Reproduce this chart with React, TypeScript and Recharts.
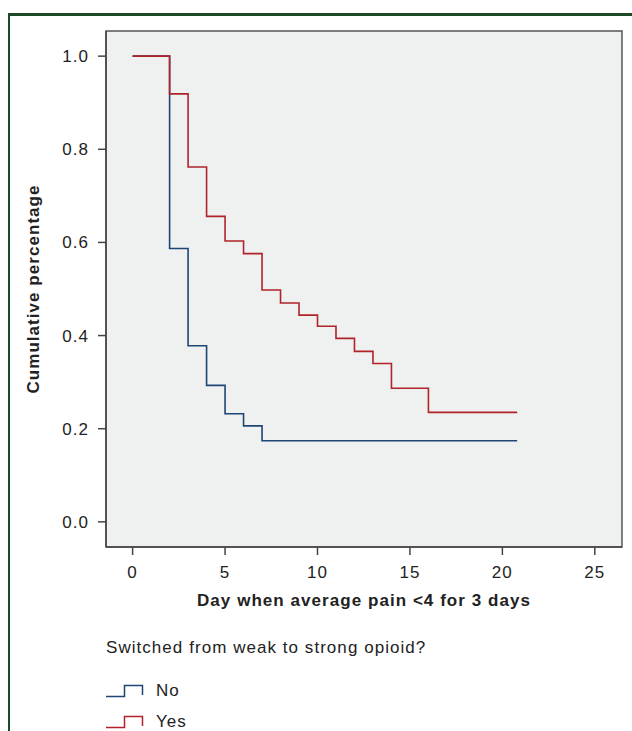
import React from 'react';
import {
  LineChart,
  Line,
  XAxis,
  YAxis,
  CartesianGrid,
  ReferenceArea,
  Legend,
} from 'recharts';

// Kaplan-Meier style step values
const days = [0, 2, 3, 4, 5, 6, 7, 8, 9, 10, 11, 12, 13, 14, 16, 20.8];
const switchedNo = [1.0, 0.587, 0.378, 0.293, 0.232, 0.206, 0.174, 0.174, 0.174, 0.174, 0.174, 0.174, 0.174, 0.174, 0.174, 0.174];
const switchedYes = [1.0, 0.919, 0.762, 0.656, 0.603, 0.576, 0.498, 0.47, 0.444, 0.42, 0.394, 0.366, 0.34, 0.287, 0.235, 0.235];

const xTicks = [0, 5, 10, 15, 20, 25];
const yTicks = [0, 0.2, 0.4, 0.6, 0.8, 1.0];
const xDomain: [number, number] = [-1.44, 26.47];
const yDomain: [number, number] = [-0.054, 1.054];

const legendTitle = 'Switched from weak to strong opioid?';

const data = days.map((d, i) => ({ day: d, No: switchedNo[i], Yes: switchedYes[i] }));

const FONT = '"Liberation Sans", Arial, Helvetica, sans-serif';
const FS = 17;
const LS = 1.05; // the original type is set a bit wide
const TEXT = '#222';
const AXIS = '#444';

const renderLegend = (props: any) => {
  const { payload } = props;
  return (
    <div style={{ fontFamily: FONT, fontSize: FS, letterSpacing: LS, color: TEXT }}>
      <div style={{ height: 20, lineHeight: '20px', marginBottom: 23 }}>{legendTitle}</div>
      {payload.map((entry: any) => (
        <div key={entry.value} style={{ display: 'flex', alignItems: 'center', height: 20, marginBottom: 11 }}>
          <svg width={40} height={14} style={{ marginRight: 10 }}>
            <path d="M0,12.5 H18.5 V1.5 H36.5 V11" fill="none" stroke={entry.color} strokeWidth={1.5} />
          </svg>
          <span style={{ lineHeight: '20px' }}>{entry.value}</span>
        </div>
      ))}
    </div>
  );
};

const YTitle = ({ viewBox }: any) => {
  const cx = viewBox.x + 33;
  const cy = viewBox.y + viewBox.height / 2;
  return (
    <text
      x={cx}
      y={cy}
      transform={`rotate(-90, ${cx}, ${cy})`}
      textAnchor="middle"
      dominantBaseline="central"
      style={{ fontFamily: FONT, fontSize: FS, letterSpacing: LS, fontWeight: 'bold', fill: TEXT }}
    >
      Cumulative percentage
    </text>
  );
};

const XTitle = ({ viewBox }: any) => (
  <text
    x={viewBox.x + viewBox.width / 2}
    y={viewBox.y + 53}
    textAnchor="middle"
    dominantBaseline="central"
    style={{ fontFamily: FONT, fontSize: FS, letterSpacing: LS, fontWeight: 'bold', fill: TEXT }}
  >
    Day when average pain &lt;4 for 3 days
  </text>
);

const tickStyle = { fontFamily: FONT, fontSize: FS, letterSpacing: LS, fill: TEXT };

export default function App() {
  return (
    <div style={{ position: 'absolute', left: 0, top: 0, width: 632, height: 731, background: '#fff', overflow: 'hidden' }}>
      <div
        style={{
          position: 'absolute',
          left: 8,
          top: 13,
          width: 640,
          height: 740,
          borderTop: '3px solid #1d4a26',
          borderLeft: '2px solid #1d4a26',
        }}
      />
      <div style={{ position: 'absolute', left: 0, top: 0 }}>
        <LineChart
          width={632}
          height={731}
          data={data}
          margin={{ top: 31, right: 10, bottom: 144, left: 0 }}
        >
          <CartesianGrid horizontal={false} vertical={false} fill="#eff1f0" />
          <ReferenceArea
            x1={xDomain[0]}
            x2={xDomain[1]}
            y1={yDomain[0]}
            y2={yDomain[1]}
            fill="#eff1f0"
            fillOpacity={1}
            stroke="#555"
            strokeWidth={1.5}
            ifOverflow="visible"
          />
          <XAxis
            type="number"
            dataKey="day"
            domain={xDomain}
            allowDataOverflow
            ticks={xTicks}
            height={40}
            tickSize={8}
            tickMargin={11}
            axisLine={{ stroke: AXIS, strokeWidth: 1.5 }}
            tickLine={{ stroke: AXIS, strokeWidth: 1.5 }}
            tick={tickStyle}
            label={<XTitle />}
          />
          <YAxis
            type="number"
            domain={yDomain}
            allowDataOverflow
            ticks={yTicks}
            width={106}
            tickSize={8}
            tickMargin={9}
            tickFormatter={(v: number) => v.toFixed(1)}
            axisLine={{ stroke: AXIS, strokeWidth: 1.5 }}
            tickLine={{ stroke: AXIS, strokeWidth: 1.5 }}
            tick={tickStyle}
            label={<YTitle />}
          />
          <Legend
            layout="vertical"
            align="center"
            verticalAlign="middle"
            content={renderLegend}
            wrapperStyle={{ left: 106, top: 638, width: 420, height: 100 }}
          />
          <Line
            type="stepAfter"
            dataKey="No"
            name="No"
            stroke="#1d4675"
            strokeWidth={1.6}
            dot={false}
            activeDot={false}
            isAnimationActive={false}
          />
          <Line
            type="stepAfter"
            dataKey="Yes"
            name="Yes"
            stroke="#b0232b"
            strokeWidth={1.6}
            dot={false}
            activeDot={false}
            isAnimationActive={false}
          />
        </LineChart>
      </div>
    </div>
  );
}
